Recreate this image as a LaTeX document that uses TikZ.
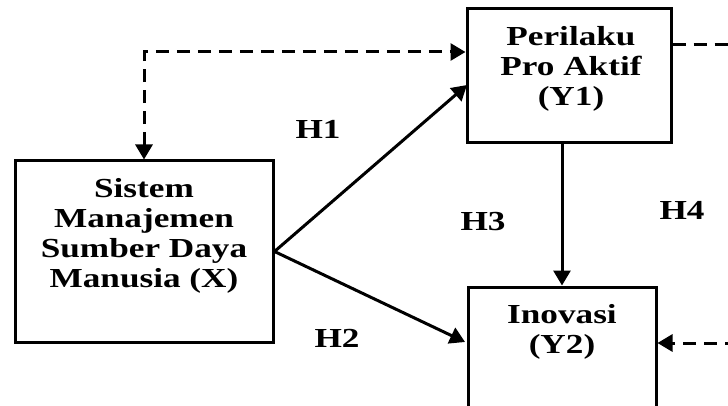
\documentclass[tikz,border=0pt]{standalone}
\usepackage{fontspec}
\setmainfont{Liberation Serif}[FakeStretch=1.28]
\usetikzlibrary{arrows.meta,calc}
\begin{document}
\begin{tikzpicture}[x=1pt,y=-1pt,
  >={Triangle[length=15pt,width=17pt]},
  boxnode/.style={draw=black, line width=3pt, rectangle, inner sep=0pt},
  txt/.style={align=center, inner sep=0pt, font=\fontsize{27.5}{30}\selectfont\bfseries},
  hlabel/.style={inner sep=0pt, anchor=base, font=\fontsize{27.5}{30}\selectfont\bfseries},
  solidarrow/.style={line width=3pt, ->},
  dasharrow/.style={line width=3pt, dash pattern=on 13pt off 8pt}
]
\useasboundingbox (0,0) rectangle (728,406);
\clip (0,0) rectangle (728,406);
% boxes
\node[boxnode, minimum width=258pt, minimum height=181pt] (X) at (144,251.5) {};
\node[boxnode, minimum width=204pt, minimum height=134pt] (Y1) at (569,76) {};
\node[boxnode, minimum width=188pt, minimum height=150pt] (Y2) at (562,362) {};
% texts
\node[txt, anchor=north] (Xt) at (144,178) {Sistem\\Manajemen\\Sumber Daya\\Manusia (X)};
\node[txt, anchor=north] (Y1t) at (571,26) {Perilaku\\Pro Aktif\\(Y1)};
\node[txt, anchor=north] (Y2t) at (562,304) {Inovasi\\(Y2)};
% labels
\node[hlabel] (H1) at (318,139) {H1};
\node[hlabel] (H2) at (337,347) {H2};
\node[hlabel] (H3) at (483,230) {H3};
\node[hlabel] (H4) at (682,220) {H4};
% coordinates
\coordinate (d1) at (144,52);
\coordinate (y1in) at (467,85);
\coordinate (y2in) at (465,342);
\coordinate (r1) at (Y1.east |- 0,45);
\coordinate (r2) at (745,45);
\coordinate (r3) at (745,343);
\coordinate (r4) at (Y2.east |- 0,343);
% solid connectors
\draw[solidarrow] (X.east) -- (y1in);
\draw[solidarrow] (X.east) -- (y2in);
\draw[solidarrow] (Y2.north |- Y1.south) -- (Y2.north);
% dashed connectors
\draw[dasharrow, <->] (X.north) -- (d1) -- (d1 -| Y1.west);
\draw[dasharrow, ->] (r1) -- (r2) -- (r3) -- (r4);
\end{tikzpicture}
\end{document}
